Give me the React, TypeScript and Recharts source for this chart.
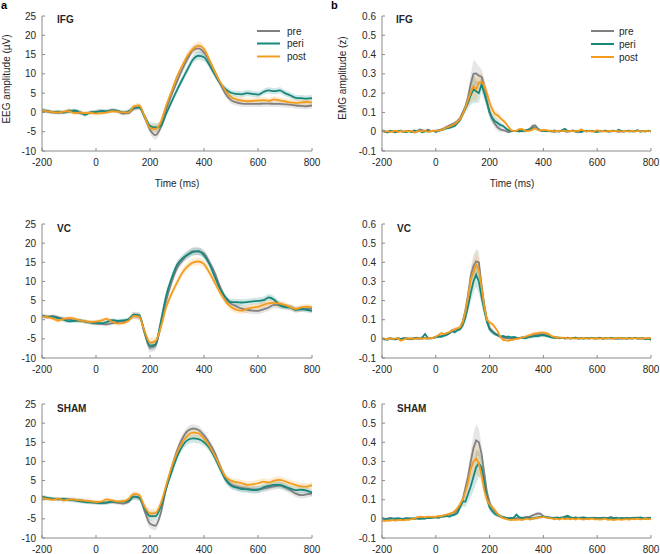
import { ComposedChart, Line, Area, XAxis, YAxis } from "recharts";

// time bases (ms)
const eegTime = [
  -200, -180, -160, -140, -120, -100, -80, -60, -40, -20,
  0, 20, 40, 60, 80, 100, 120, 140, 160, 180,
  200, 220, 240, 260, 280, 300, 320, 340, 360, 380,
  400, 420, 440, 460, 480, 500, 520, 540, 560, 580,
  600, 620, 640, 660, 680, 700, 720, 740, 760, 780,
  800,
];

const emgTime = [
  -200, -190, -180, -170, -160, -150, -140, -130, -120, -110,
  -100, -90, -80, -70, -60, -50, -40, -30, -20, -10,
  0, 10, 20, 30, 40, 50, 60, 70, 80, 90,
  100, 110, 120, 130, 140, 150, 160, 170, 180, 190,
  200, 210, 220, 230, 240, 250, 260, 270, 280, 290,
  300, 310, 320, 330, 340, 350, 360, 370, 380, 390,
  400, 410, 420, 430, 440, 450, 460, 470, 480, 490,
  500, 510, 520, 530, 540, 550, 560, 570, 580, 590,
  600, 610, 620, 630, 640, 650, 660, 670, 680, 690,
  700, 710, 720, 730, 740, 750, 760, 770, 780, 790, 800,
];

// ---- EEG (µV) ----
const ifgEegPre = [
  0.5, 0.2, 0, -0.1, 0, 0.5, 0.2, -0.2, -0.3, 0,
  0.2, 0.3, 0.2, 0.5, 0.3, -0.3, -0.2, 1, 1.3, -1.3,
  -4.5, -5.9, -3.8, 0.8, 4.6, 8, 11.2, 14, 16.2, 16.6,
  15.5, 13.3, 10.5, 7.5, 4.8, 3.2, 2.6, 2.3, 2.2, 2.2,
  2.2, 2.3, 2.3, 2.2, 2.2, 2.1, 2, 1.8, 1.7, 1.6,
  1.8,
];
const ifgEegPeri = [
  0.6, 0.4, 0.1, 0.2, 0, 0.2, 0.5, 0.1, -0.6, 0,
  0.1, 0.4, 0.3, 0.6, 0.4, 0, 0.3, 1.2, 1.3, -1,
  -3.5, -3.9, -3.5, -0.3, 2.8, 5.8, 8.6, 11.3, 13.8, 14.7,
  14.3, 12.3, 9.8, 7.5, 6, 5.1, 4.8, 4.7, 5, 4.8,
  4.6, 5.3, 5.7, 5.5, 5.7, 5, 4.4, 3.8, 3.7, 3.6,
  3.7,
];
const ifgEegPost = [
  0.5, 0.3, 0.1, 0, 0.2, 0.3, -0.2, 0, -0.2, -0.1,
  -0.3, -0.2, 0, 0.3, 0.2, 0, 0, 1.5, 1.8, -1,
  -4, -4.3, -2.5, 1.8, 5.5, 9.3, 12.2, 14.8, 16.5, 17.3,
  16.4, 13.6, 10.5, 7.8, 5.6, 4, 3.4, 3.1, 2.9, 3,
  3.1, 3.2, 3, 3.4, 3.1, 2.9, 2.6, 2.5, 2.6, 2.7,
  2.6,
];
const ifgEegSem = [
  0.5, 0.5, 0.5, 0.5, 0.5, 0.5, 0.5, 0.5, 0.5, 0.5,
  0.5, 0.5, 0.5, 0.5, 0.5, 0.5, 0.5, 0.7, 0.7, 0.8,
  1, 1.1, 1, 0.8, 0.8, 0.8, 0.9, 1, 1, 1.1,
  1, 0.9, 0.8, 0.8, 0.8, 0.8, 0.8, 0.8, 0.8, 0.8,
  0.8, 0.8, 0.8, 0.8, 0.8, 0.8, 0.8, 0.8, 0.8, 0.8,
  0.8,
];

const vcEegPre = [
  1, 0.8, 0.9, 0.6, 0.3, 0.1, -0.2, -0.3, -0.5, -0.8,
  -1, -1.1, -1.2, -0.9, -0.6, -0.4, -0.1, 1, 0.8, -3.5,
  -7.3, -6.8, -1.5, 5, 9.8, 13.5, 15.5, 17, 17.9, 17.8,
  17.3, 15, 12.2, 8.5, 5.6, 4.2, 3.5, 2.9, 2.6, 2.4,
  2.3, 2.7, 3.2, 3.9, 3.8, 3.5, 3.2, 2.6, 2.7, 2.9,
  2.9,
];
const vcEegPeri = [
  1, 0.7, 0.8, 0.4, 0, -0.4, -0.3, -0.2, -0.5, -0.7,
  -0.8, -0.9, -0.6, -0.1, -0.3, -0.2, 0.1, 1.3, 1.2, -3.2,
  -6.8, -6.5, -0.5, 6.3, 10.8, 14.3, 16, 17, 17.7, 17.9,
  16.8, 14.5, 11.2, 8, 5.8, 4.6, 4.6, 4.5, 4.6, 4.8,
  4.9, 5.1, 5.8, 5.2, 3.8, 3.3, 3.2, 2.6, 2.8, 2.6,
  2.3,
];
const vcEegPost = [
  0.8, 0.7, 0.3, -0.2, 0.2, 0.5, 0.3, -0.2, -0.4, -0.6,
  -0.5, -0.2, 0.2, -0.5, -1, -0.9, -0.3, 1, 0.8, -3,
  -6, -5.6, -2, 3.3, 6.8, 9.7, 12.3, 14, 15, 15.2,
  14.5, 12.3, 9.7, 7, 4.8, 3.3, 2.6, 2.4, 2.8, 3.2,
  3.4, 3.9, 4.3, 4.4, 4.2, 3.9, 3.3, 2.8, 3.2, 3.4,
  3.2,
];
const vcEegSem = [
  0.5, 0.5, 0.5, 0.5, 0.5, 0.5, 0.5, 0.5, 0.5, 0.5,
  0.5, 0.5, 0.5, 0.5, 0.5, 0.5, 0.5, 0.8, 0.8, 1,
  1.2, 1.1, 1, 1, 1, 1, 1, 1, 1, 1,
  1, 1, 0.9, 0.8, 0.8, 0.9, 0.9, 0.9, 0.9, 0.9,
  0.9, 0.9, 0.9, 0.9, 0.9, 0.7, 0.7, 0.7, 0.7, 0.7,
  0.7,
];

const shamEegPre = [
  0.5, 0.3, 0.2, 0.2, 0.1, 0.1, 0, -0.1, -0.3, -0.5,
  -0.7, -0.9, -0.8, -0.6, -0.8, -1, -0.6, 0.8, 0.6, -3,
  -6.3, -6.8, -3.5, 3, 8.3, 12.8, 16, 18, 18.6, 18.2,
  16.8, 14.8, 12.2, 8.8, 5.6, 4, 3.4, 3.1, 2.9, 2.7,
  2.7, 2.9, 3.2, 3.5, 3.7, 3.2, 2.5, 1.6, 1.2, 1.4,
  1.7,
];
const shamEegPeri = [
  0.8, 0.5, 0.3, 0.1, 0.2, 0, -0.2, -0.4, -0.6, -0.7,
  -0.8, -0.9, -0.7, -0.5, -0.6, -0.5, -0.3, 0.8, 0.5, -2.2,
  -4.3, -4.3, -1.8, 3, 7.2, 11.2, 14, 15.6, 16, 15.8,
  15, 13.5, 11, 8, 5.2, 3.7, 3.2, 2.8, 2.7, 2.5,
  2.6, 3.2, 3.6, 3.9, 3.9, 3.4, 2.9, 2.5, 2.6, 2.4,
  1.8,
];
const shamEegPost = [
  0.5, 0.2, 0, 0.3, -0.2, 0.1, 0, -0.1, -0.3, -0.4,
  -0.6, -0.5, 0.1, -0.2, -0.5, -0.4, 0.2, 1.5, 1.2, -1.8,
  -3.6, -3.5, -1, 3.8, 8.5, 12.3, 15, 16.8, 17.5, 17.3,
  16, 14, 11.5, 8.6, 6, 5, 4.6, 4.3, 3.9, 4,
  4.3, 4.7, 4.5, 5, 5.2, 4.8, 4.3, 3.8, 3.5, 3.4,
  3.8,
];
const shamEegSem = [
  0.5, 0.5, 0.5, 0.5, 0.5, 0.5, 0.5, 0.5, 0.5, 0.5,
  0.5, 0.5, 0.5, 0.5, 0.5, 0.5, 0.5, 0.8, 0.8, 1,
  1.2, 1.2, 1, 0.9, 0.9, 1, 1.1, 1.1, 1.1, 1.1,
  1, 1, 0.9, 0.9, 0.9, 0.9, 0.9, 0.9, 0.9, 0.9,
  0.9, 0.9, 0.9, 0.9, 0.9, 0.9, 0.9, 0.9, 0.9, 0.9,
  0.9,
];

// ---- EMG (z) ----
const ifgEmgPre = [
  0.005, 0, -0.003, 0.002, 0.004, -0.002, 0.001, 0.003, -0.001, 0.002,
  0.004, 0.001, 0.006, 0.003, 0.012, 0.008, 0.002, 0.01, 0.006, 0.004,
  0.006, 0.008, 0.012, 0.018, 0.025, 0.032, 0.038, 0.045, 0.055, 0.07,
  0.1, 0.13, 0.18, 0.25, 0.3, 0.302, 0.29, 0.285, 0.24, 0.16,
  0.1, 0.065, 0.04, 0.022, 0.012, 0.008, 0.004, -0.003, 0.002, 0.003,
  0.004, 0.001, 0.005, 0.002, 0.006, 0.015, 0.03, 0.032, 0.015, 0.005,
  0.003, 0.006, 0.002, 0.004, -0.002, 0.003, 0.001, 0.005, 0.002, 0,
  0.003, 0.006, 0.001, -0.003, 0.002, 0.004, 0.001, 0.005, 0.003, 0.002,
  0.004, 0.001, 0.003, 0.006, 0.002, 0.001, 0.004, 0.002, 0, 0.003,
  0.002, 0.004, 0.001, 0.003, 0.002, 0.005, 0.001, 0.003, 0.002, 0.004, 0.001,
];
const ifgEmgPeri = [
  0.008, 0.002, -0.004, 0.005, 0.001, -0.003, 0.004, 0.006, 0, -0.002,
  0.003, -0.002, 0.005, 0.001, 0.004, -0.003, 0.002, 0.006, 0.001, 0.005,
  -0.002, 0.004, 0.008, 0.012, 0.018, 0.02, 0.025, 0.03, 0.045, 0.06,
  0.09, 0.12, 0.15, 0.19, 0.22, 0.21, 0.2, 0.245, 0.2, 0.15,
  0.1, 0.07, 0.055, 0.045, 0.035, 0.03, 0.018, 0.008, 0.003, 0.004,
  0.003, 0.005, 0.002, 0.006, 0.01, 0.012, 0.018, 0.02, 0.012, 0.006,
  0.004, 0.002, 0.005, 0.001, 0.006, 0.003, 0.002, 0.008, 0.015, 0.004,
  0.002, 0.005, 0.001, 0.004, -0.002, 0.003, 0.006, 0.002, 0.004, 0.001,
  -0.002, 0.004, 0.002, 0.005, 0.001, 0.003, 0.006, 0.002, 0.01, 0.003,
  0.001, 0.004, 0.006, 0.002, 0.003, 0.008, 0.001, 0.004, 0.002, 0.005, 0.003,
];
const ifgEmgPost = [
  0.004, 0.001, 0.003, -0.002, 0.002, 0.005, 0, 0.003, 0.001, 0.004,
  0.002, 0.005, -0.005, 0.001, 0.004, 0.002, 0.006, -0.002, 0.003, 0.005,
  0.004, 0.006, 0.01, 0.015, 0.022, 0.026, 0.032, 0.04, 0.05, 0.065,
  0.09, 0.125, 0.165, 0.205, 0.235, 0.22, 0.255, 0.26, 0.24, 0.2,
  0.15, 0.115, 0.092, 0.085, 0.07, 0.058, 0.045, 0.025, 0.008, 0.003,
  0.005, 0.014, 0.015, 0.006, 0.003, 0.005, 0.012, 0.018, 0.01, 0.006,
  0.01, 0.008, 0.004, 0.006, 0.002, 0.005, 0.003, 0.004, 0.006, 0.002,
  0.004, 0.002, 0.006, 0.003, 0.012, 0.005, 0.002, 0.004, 0.001, 0.003,
  0.008, 0.002, 0.004, 0.001, 0.003, 0.005, 0.002, 0.004, 0.003, 0.001,
  0.004, 0.002, 0.003, 0.005, 0.001, 0.004, 0.002, 0.003, 0.006, 0.002, 0.004,
];
const ifgEmgSem = [
  0.004, 0.004, 0.004, 0.004, 0.004, 0.004, 0.004, 0.004, 0.004, 0.004,
  0.004, 0.004, 0.004, 0.004, 0.004, 0.004, 0.004, 0.004, 0.004, 0.004,
  0.004, 0.004, 0.005, 0.005, 0.006, 0.007, 0.008, 0.009, 0.01, 0.012,
  0.015, 0.02, 0.03, 0.05, 0.07, 0.06, 0.05, 0.04, 0.035, 0.03,
  0.028, 0.025, 0.022, 0.02, 0.015, 0.01, 0.008, 0.006, 0.005, 0.005,
  0.005, 0.005, 0.005, 0.005, 0.006, 0.008, 0.01, 0.01, 0.008, 0.005,
  0.004, 0.004, 0.004, 0.004, 0.004, 0.004, 0.004, 0.004, 0.004, 0.004,
  0.004, 0.004, 0.004, 0.004, 0.004, 0.004, 0.004, 0.004, 0.004, 0.004,
  0.004, 0.004, 0.004, 0.004, 0.004, 0.004, 0.004, 0.004, 0.004, 0.004,
  0.004, 0.004, 0.004, 0.004, 0.004, 0.004, 0.004, 0.004, 0.004, 0.004, 0.004,
];

const vcEmgPre = [
  0.002, -0.003, 0.001, 0.003, -0.002, 0, 0.002, -0.001, 0.003, 0.001,
  -0.002, 0.002, 0.004, 0, 0.003, 0.002, 0.005, 0.001, 0.004, 0.006,
  0.01, 0.014, 0.016, 0.02, 0.025, 0.032, 0.045, 0.048, 0.05, 0.058,
  0.09, 0.15, 0.23, 0.33, 0.38, 0.405, 0.4, 0.28, 0.18, 0.1,
  0.058, 0.042, 0.03, 0.018, 0.01, 0.006, 0.004, 0.002, 0.003, 0.001,
  0.004, 0.003, 0.006, 0.008, 0.012, 0.015, 0.018, 0.02, 0.022, 0.024,
  0.023, 0.02, 0.016, 0.01, 0.008, 0.006, 0.004, 0.005, 0.003, 0.006,
  0.004, 0.003, 0.006, 0.002, 0.005, 0.003, 0.004, 0.002, 0.005, 0.003,
  0.004, 0.006, 0.002, 0.003, 0.005, 0.001, 0.004, 0.003, 0.002, 0.004,
  0.003, 0.001, 0.004, 0.002, 0.005, 0.003, 0.002, 0.004, 0.001, 0.003, 0.002,
];
const vcEmgPeri = [
  0.004, -0.002, -0.005, 0.002, 0.001, -0.003, 0.003, -0.001, 0.002, 0.004,
  0.001, -0.002, 0.003, 0.006, 0.002, 0.008, 0.025, 0.006, 0.002, 0.005,
  0.008, 0.012, 0.01, 0.016, 0.02, 0.028, 0.04, 0.035, 0.045, 0.05,
  0.07, 0.11, 0.17, 0.24, 0.3, 0.335, 0.3, 0.22, 0.15, 0.09,
  0.05, 0.035, 0.025, 0.02, 0.012, 0.015, 0.01, 0.012, 0.008, 0.01,
  0.006, 0.004, 0.007, 0.003, 0.006, 0.01, 0.012, 0.015, 0.014, 0.018,
  0.02, 0.016, 0.012, 0.008, 0.005, 0.007, 0.003, 0.006, 0.002, 0.005,
  0.001, 0.004, 0.006, 0.002, 0.004, 0.001, 0.005, 0.003, 0.006, 0.002,
  0.003, 0.005, 0.001, 0.004, 0.002, 0.006, 0.003, 0.001, 0.004, 0.002,
  0.004, 0.001, 0.005, 0.002, 0.006, 0.001, 0.003, 0.002, -0.002, 0.001, -0.005,
];
const vcEmgPost = [
  0.003, 0.001, -0.002, 0.002, 0, 0.003, 0.002, -0.01, -0.004, 0.002,
  0.001, 0.003, -0.001, 0.002, 0.004, 0.001, 0.003, 0.002, 0.005, 0.004,
  0.012, 0.02, 0.03, 0.025, 0.03, 0.035, 0.042, 0.05, 0.055, 0.06,
  0.085, 0.14, 0.22, 0.31, 0.35, 0.39, 0.36, 0.27, 0.17, 0.1,
  0.085, 0.078, 0.06, 0.04, 0.01, -0.005, -0.008, -0.01, -0.006, -0.004,
  0, 0.003, 0.006, 0.01, 0.015, 0.02, 0.025, 0.028, 0.03, 0.033,
  0.033, 0.03, 0.025, 0.015, 0.01, 0.006, 0.008, 0.004, 0.006, 0.002,
  0.005, 0.003, 0.001, 0.004, 0.002, 0.005, 0.003, 0.001, 0.004, 0.002,
  0.003, 0.001, 0.004, 0.002, 0.005, 0.003, 0.001, 0.004, 0.006, 0.002,
  0.004, 0.002, 0.001, 0.005, 0.003, 0.002, 0.004, 0.001, 0.003, 0.005, 0.002,
];
const vcEmgSem = [
  0.004, 0.004, 0.004, 0.004, 0.004, 0.004, 0.004, 0.004, 0.004, 0.004,
  0.004, 0.004, 0.004, 0.004, 0.004, 0.004, 0.004, 0.004, 0.004, 0.004,
  0.004, 0.005, 0.005, 0.006, 0.006, 0.007, 0.008, 0.009, 0.01, 0.012,
  0.015, 0.02, 0.03, 0.045, 0.06, 0.065, 0.06, 0.045, 0.03, 0.02,
  0.015, 0.012, 0.01, 0.008, 0.006, 0.005, 0.005, 0.005, 0.005, 0.005,
  0.005, 0.005, 0.005, 0.006, 0.007, 0.008, 0.009, 0.01, 0.01, 0.01,
  0.01, 0.009, 0.008, 0.007, 0.006, 0.005, 0.005, 0.004, 0.004, 0.004,
  0.004, 0.004, 0.004, 0.004, 0.004, 0.004, 0.004, 0.004, 0.004, 0.004,
  0.004, 0.004, 0.004, 0.004, 0.004, 0.004, 0.004, 0.004, 0.004, 0.004,
  0.004, 0.004, 0.004, 0.004, 0.004, 0.004, 0.004, 0.004, 0.004, 0.004, 0.004,
];

const shamEmgPre = [
  0.002, -0.002, 0.001, 0.003, -0.001, 0.002, 0, -0.002, 0.001, 0.003,
  0.001, 0.002, -0.001, 0.003, 0.002, 0.004, 0.003, 0.006, 0.005, 0.008,
  0.01, 0.012, 0.014, 0.018, 0.02, 0.025, 0.028, 0.035, 0.045, 0.07,
  0.1, 0.16, 0.22, 0.3, 0.37, 0.41, 0.4, 0.34, 0.24, 0.14,
  0.085, 0.055, 0.04, 0.025, 0.015, 0.01, 0.006, 0.004, 0.005, 0.003,
  0.004, 0.006, 0.005, 0.008, 0.01, 0.012, 0.018, 0.024, 0.028, 0.026,
  0.014, 0.008, 0.006, 0.004, 0.006, 0.003, 0.005, 0.008, 0.004, 0.006,
  0.003, 0.005, 0.002, 0.006, 0.004, 0.002, 0.005, 0.003, 0.004, 0.006,
  0.002, 0.005, 0.003, 0.006, 0.004, 0.01, 0.005, 0.003, 0.002, 0.004,
  0.003, 0.005, 0.002, 0.006, 0.004, 0.008, 0.003, 0.005, 0.002, 0.004, 0.006,
];
const shamEmgPeri = [
  0.004, 0.001, -0.002, 0.003, 0.002, 0, 0.003, 0.001, -0.001, 0.002,
  0.003, 0.001, 0.004, 0.002, 0, 0.003, 0.002, 0.005, 0.004, 0.006,
  0.008, 0.006, 0.01, 0.012, 0.015, 0.012, 0.018, 0.022, 0.03, 0.06,
  0.09, 0.09, 0.13, 0.17, 0.22, 0.27, 0.29, 0.27, 0.19, 0.11,
  0.06, 0.04, 0.025, 0.018, 0.012, 0.008, 0.005, 0.002, 0.004, 0.006,
  0.022, 0.008, 0.005, 0.003, 0.006, 0.004, 0.002, 0.005, 0.008, 0.01,
  0.012, 0.01, 0.008, 0.006, 0.004, 0.007, 0.005, 0.006, 0.012, 0.016,
  0.008, 0.005, 0.007, 0.004, 0.006, 0.008, 0.005, 0.003, 0.006, 0.004,
  0.005, 0.003, 0.006, 0.004, 0.002, 0.005, 0.003, 0.006, 0.002, 0.004,
  0.003, 0.005, 0.002, 0.004, 0.006, 0.003, 0.008, 0.004, 0.002, 0.006, 0.004,
];
const shamEmgPost = [
  -0.01, -0.012, -0.008, -0.01, -0.006, -0.009, -0.007, -0.005, -0.008, -0.004,
  -0.005, -0.002, 0.001, 0.008, 0.012, 0.01, 0.008, 0.012, 0.01, 0.012,
  0.01, 0.014, 0.012, 0.018, 0.022, 0.026, 0.03, 0.04, 0.055, 0.075,
  0.1, 0.14, 0.19, 0.26, 0.3, 0.315, 0.29, 0.23, 0.15, 0.1,
  0.075, 0.06, 0.045, 0.025, 0.012, 0.004, 0, -0.004, -0.006, -0.004,
  -0.005, -0.003, -0.006, -0.002, 0.001, -0.003, 0.002, 0.004, 0.006, 0.008,
  0.01, 0.006, 0.004, 0.002, -0.002, 0.001, -0.004, 0.003, -0.002, 0.001,
  -0.002, 0.001, -0.003, 0.002, -0.001, -0.004, 0, -0.002, 0.002, -0.003,
  -0.001, -0.004, -0.002, 0.001, -0.005, -0.003, -0.006, -0.004, -0.002, -0.005,
  -0.003, -0.001, -0.004, 0, -0.002, 0.001, -0.003, -0.001, 0.002, -0.002, 0,
];
const shamEmgSem = [
  0.004, 0.004, 0.004, 0.004, 0.004, 0.004, 0.004, 0.004, 0.004, 0.004,
  0.004, 0.004, 0.004, 0.004, 0.004, 0.004, 0.004, 0.004, 0.004, 0.004,
  0.004, 0.005, 0.005, 0.006, 0.006, 0.007, 0.008, 0.01, 0.012, 0.015,
  0.025, 0.03, 0.04, 0.055, 0.075, 0.085, 0.07, 0.05, 0.035, 0.025,
  0.02, 0.015, 0.012, 0.01, 0.008, 0.006, 0.005, 0.005, 0.005, 0.005,
  0.005, 0.005, 0.005, 0.005, 0.006, 0.007, 0.008, 0.01, 0.01, 0.008,
  0.004, 0.004, 0.004, 0.004, 0.004, 0.004, 0.004, 0.004, 0.004, 0.004,
  0.004, 0.004, 0.004, 0.004, 0.004, 0.004, 0.004, 0.004, 0.004, 0.004,
  0.004, 0.004, 0.004, 0.004, 0.004, 0.004, 0.004, 0.004, 0.004, 0.004,
  0.004, 0.004, 0.004, 0.004, 0.004, 0.004, 0.004, 0.004, 0.004, 0.004, 0.004,
];

const xTicks = [-200, 0, 200, 400, 600, 800];
const eegTicks = [-10, -5, 0, 5, 10, 15, 20, 25];
const emgTicks = [-0.1, 0, 0.1, 0.2, 0.3, 0.4, 0.5, 0.6];
const series = ["pre", "peri", "post"];
const colors: Record<string, string> = { pre: "#808080", peri: "#17877c", post: "#f39c1e" };

const font = '"Liberation Sans", Arial, Helvetica, sans-serif';

function buildRows(time: number[], pre: number[], peri: number[], post: number[], sem: number[]) {
  return time.map((t, i) => ({
    t,
    pre: pre[i],
    peri: peri[i],
    post: post[i],
    preBand: [pre[i] - sem[i], pre[i] + sem[i]],
    periBand: [peri[i] - sem[i], peri[i] + sem[i]],
    postBand: [post[i] - sem[i], post[i] + sem[i]],
  }));
}

const ifgEeg = buildRows(eegTime, ifgEegPre, ifgEegPeri, ifgEegPost, ifgEegSem);
const vcEeg = buildRows(eegTime, vcEegPre, vcEegPeri, vcEegPost, vcEegSem);
const shamEeg = buildRows(eegTime, shamEegPre, shamEegPeri, shamEegPost, shamEegSem);
const ifgEmg = buildRows(emgTime, ifgEmgPre, ifgEmgPeri, ifgEmgPost, ifgEmgSem);
const vcEmg = buildRows(emgTime, vcEmgPre, vcEmgPeri, vcEmgPost, vcEmgSem);
const shamEmg = buildRows(emgTime, shamEmgPre, shamEmgPeri, shamEmgPost, shamEmgSem);

type PanelProps = {
  data: any[];
  left: number;
  top: number;
  plotW: number;
  plotH: number;
  rightPad: number;
  domain: [number, number];
  ticks: number[];
  curve: "monotone" | "linear";
};

function Panel({ data, left, top, plotW, plotH, rightPad, domain, ticks, curve }: PanelProps) {
  const tickStyle = { fontSize: 10, fill: "#262626", fontFamily: font };
  return (
    <div style={{ position: "absolute", left, top: top - 8 }}>
      <ComposedChart
        width={42 + plotW + rightPad}
        height={plotH + 8 + 24}
        data={data}
        margin={{ top: 8, right: rightPad, bottom: 0, left: 0 }}
      >
        <XAxis
          dataKey="t"
          type="number"
          domain={[-200, 800]}
          ticks={xTicks}
          interval={0}
          height={24}
          tickSize={-3}
          tickMargin={11}
          stroke="#8a8a8a"
          tick={tickStyle}
          allowDataOverflow
        />
        <YAxis
          type="number"
          domain={domain}
          ticks={ticks}
          interval={0}
          width={42}
          tickSize={-3}
          tickMargin={9}
          stroke="#8a8a8a"
          tick={tickStyle}
          allowDataOverflow
        />
        {series.map((s) => (
          <Area
            key={s + "Band"}
            type={curve}
            dataKey={s + "Band"}
            stroke="none"
            fill={colors[s]}
            fillOpacity={0.2}
            dot={false}
            activeDot={false}
            isAnimationActive={false}
          />
        ))}
        {series.map((s) => (
          <Line
            key={s}
            type={curve}
            dataKey={s}
            stroke={colors[s]}
            strokeWidth={1.8}
            dot={false}
            activeDot={false}
            isAnimationActive={false}
          />
        ))}
      </ComposedChart>
    </div>
  );
}

function LegendBox({ x, ys, textX }: { x: number; ys: number[]; textX: number }) {
  return (
    <g>
      {series.map((s, i) => (
        <g key={s}>
          <line x1={x} x2={x + 23} y1={ys[i]} y2={ys[i]} stroke={colors[s]} strokeWidth={2} />
          <text x={textX} y={ys[i] + 3.5} fontSize={10} fill="#262626">
            {s}
          </text>
        </g>
      ))}
    </g>
  );
}

export default function App() {
  return (
    <div
      style={{
        position: "absolute",
        left: 0,
        top: 0,
        width: 660,
        height: 554,
        background: "#fff",
        fontFamily: font,
        overflow: "hidden",
      }}
    >
      <Panel data={ifgEeg} left={0} top={16} plotW={270} plotH={135} rightPad={18} domain={[-10, 25]} ticks={eegTicks} curve="monotone" />
      <Panel data={vcEeg} left={0} top={224} plotW={270} plotH={134} rightPad={18} domain={[-10, 25]} ticks={eegTicks} curve="monotone" />
      <Panel data={shamEeg} left={0} top={404} plotW={270} plotH={134} rightPad={18} domain={[-10, 25]} ticks={eegTicks} curve="monotone" />
      <Panel data={ifgEmg} left={340} top={16} plotW={269} plotH={135} rightPad={9} domain={[-0.1, 0.6]} ticks={emgTicks} curve="linear" />
      <Panel data={vcEmg} left={340} top={224} plotW={269} plotH={134} rightPad={9} domain={[-0.1, 0.6]} ticks={emgTicks} curve="linear" />
      <Panel data={shamEmg} left={340} top={404} plotW={269} plotH={134} rightPad={9} domain={[-0.1, 0.6]} ticks={emgTicks} curve="linear" />

      <svg
        width={660}
        height={554}
        style={{ position: "absolute", left: 0, top: 0, pointerEvents: "none", fontFamily: font }}
      >
        <text x={1} y={9} fontSize={11} fontWeight="bold" fill="#000">a</text>
        <text x={331} y={9} fontSize={11} fontWeight="bold" fill="#000">b</text>

        <text x={57} y={23} fontSize={10} fontWeight="bold" fill="#262626">IFG</text>
        <text x={57} y={232} fontSize={10} fontWeight="bold" fill="#262626">VC</text>
        <text x={57} y={412} fontSize={10} fontWeight="bold" fill="#262626">SHAM</text>
        <text x={396} y={23} fontSize={10} fontWeight="bold" fill="#262626">IFG</text>
        <text x={397} y={232} fontSize={10} fontWeight="bold" fill="#262626">VC</text>
        <text x={397} y={412} fontSize={10} fontWeight="bold" fill="#262626">SHAM</text>

        <text x={10} y={79} fontSize={10} fill="#262626" textAnchor="middle" transform="rotate(-90 10 79)">
          EEG amplitude (µV)
        </text>
        <text x={346} y={78} fontSize={10} fill="#262626" textAnchor="middle" transform="rotate(-90 346 78)">
          EMG amplitude (z)
        </text>

        <text x={177} y={186.5} fontSize={10} fill="#262626" textAnchor="middle">Time (ms)</text>
        <text x={512} y={186.5} fontSize={10} fill="#262626" textAnchor="middle">Time (ms)</text>

        <LegendBox x={257} ys={[31, 43.5, 56.5]} textX={287} />
        <LegendBox x={591} ys={[31, 44, 57]} textX={619} />
      </svg>
    </div>
  );
}
